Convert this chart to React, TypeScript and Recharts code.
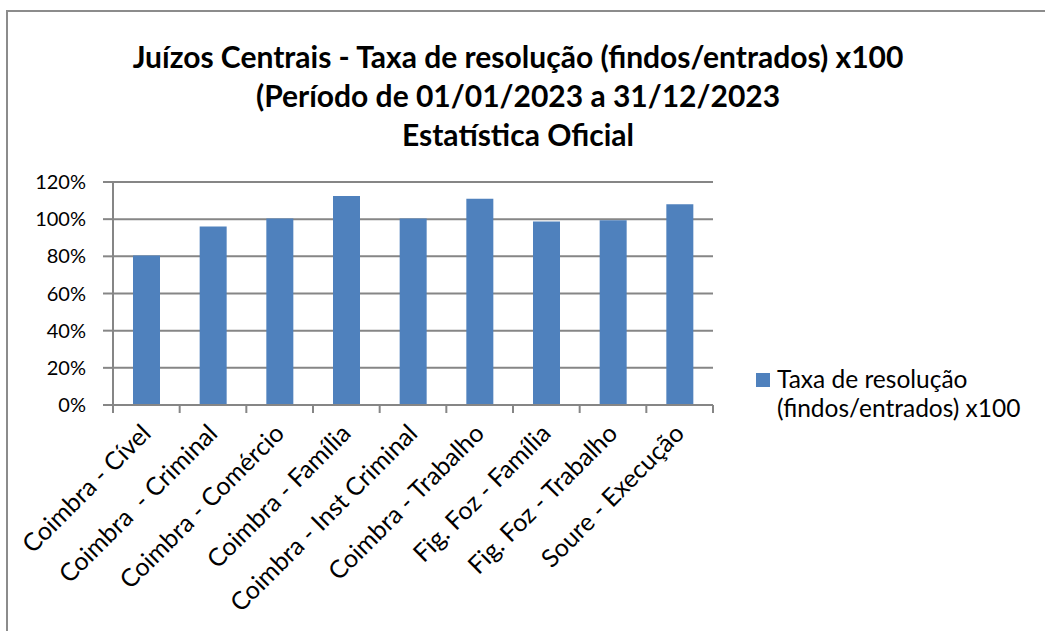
import React from "react";
import {Bar, BarChart, CartesianGrid, XAxis, YAxis} from "recharts";

const categories = [
    "Coimbra - Cível",
    "Coimbra  - Criminal",
    "Coimbra - Comércio",
    "Coimbra - Família",
    "Coimbra - Inst Criminal",
    "Coimbra - Trabalho",
    "Fig. Foz - Família",
    "Fig. Foz - Trabalho",
    "Soure - Execução",
];
const taxaValues = [0.805, 0.961, 1.004, 1.125, 1.003, 1.110, 0.987, 0.994, 1.080];
const yTicks = [0, 0.2, 0.4, 0.6, 0.8, 1.0, 1.2];
const titleLines = [
    "Juízos Centrais - Taxa de resolução (findos/entrados) x100",
    "(Período de 01/01/2023 a 31/12/2023",
    "Estatística Oficial",
];
const seriesName = ["Taxa de resolução", "(findos/entrados) x100"];

const data = categories.map((name, i) => ({name, value: taxaValues[i]}));

const FONT = "Lato, 'Open Sans', sans-serif";
const BLUE = "#4F81BD";
const GREY = "#868686";
const PLOT_W = 600;
const BAND = PLOT_W / categories.length;

const XTick = (props: any) => {
    const {x, y, payload, index} = props;
    const tx = x + 6;
    const ty = y + 30;
    return (
        <g>
            <line x1={x - BAND / 2} x2={x - BAND / 2} y1={y} y2={y + 8} stroke={GREY} strokeWidth={2}/>
            {index === categories.length - 1 &&
                <line x1={x + BAND / 2} x2={x + BAND / 2} y1={y} y2={y + 8} stroke={GREY} strokeWidth={2}/>}
            <text x={tx} y={ty} transform={`rotate(-45 ${tx} ${ty})`} textAnchor="end"
                  fontFamily={FONT} fontSize={25} fill="#000" style={{whiteSpace: "pre"}}>
                {payload.value}
            </text>
        </g>
    );
};

export default function App() {
    return (
        <div style={{position: "fixed", left: 0, top: 0, width: 1045, height: 631, overflow: "hidden", background: "#fff"}}>
            <div style={{
                position: "absolute", left: 6, top: 10, width: 1200, height: 800,
                borderLeft: "2px solid #8c8c8c", borderTop: "2px solid #8c8c8c"
            }}/>
            <div style={{
                position: "absolute", left: 0, top: 37, width: 1036, textAlign: "center",
                fontFamily: FONT, fontWeight: 700, fontSize: 30, lineHeight: "39px", color: "#000"
            }}>
                {titleLines.map((t) => <div key={t}>{t}</div>)}
            </div>
            <div style={{position: "absolute", left: 0, top: 0}}>
                <BarChart width={1045} height={631} data={data}
                          margin={{top: 182, right: 332, bottom: 0, left: 0}}
                          barCategoryGap="30%">
                    <CartesianGrid vertical={false} stroke={GREY} strokeWidth={2}/>
                    <XAxis dataKey="name" height={226} interval={0} tick={<XTick/>}
                           tickLine={false} tickSize={0} tickMargin={0}
                           axisLine={{stroke: GREY, strokeWidth: 2}}/>
                    <YAxis width={113} domain={[0, 1.2]} ticks={yTicks} interval={0}
                           tickFormatter={(v: number) => `${Math.round(v * 100)}%`}
                           tick={{fontFamily: FONT, fontSize: 20, fill: "#000"}}
                           tickSize={10} tickMargin={17}
                           tickLine={{stroke: GREY, strokeWidth: 2}}
                           axisLine={{stroke: GREY, strokeWidth: 2}}/>
                    <Bar dataKey="value" fill={BLUE} isAnimationActive={false}/>
                </BarChart>
            </div>
            <div style={{position: "absolute", left: 756, top: 373, width: 14, height: 14, background: BLUE}}/>
            <div style={{
                position: "absolute", left: 777, top: 364, fontFamily: FONT, fontSize: 24.5,
                lineHeight: "29px", color: "#000"
            }}>
                {seriesName.map((t) => <div key={t}>{t}</div>)}
            </div>
        </div>
    );
}
